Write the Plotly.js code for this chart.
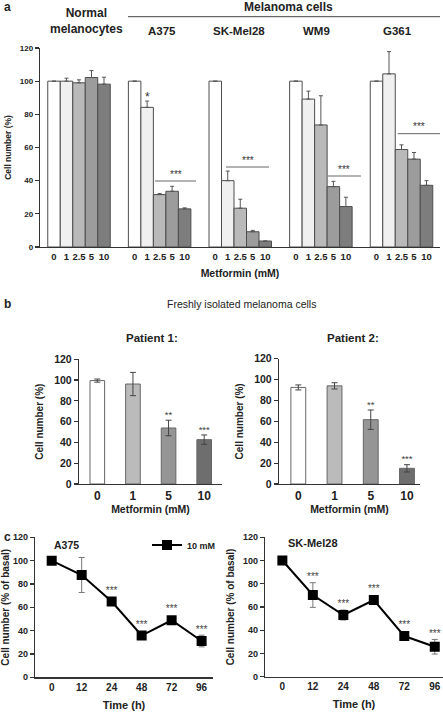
<!DOCTYPE html>
<html><head><meta charset="utf-8">
<script src="https://cdn.plot.ly/plotly-3.0.1.min.js"></script>
<style>html,body{margin:0;padding:0;background:#fff;overflow:hidden}</style>
</head><body><div id="chart" style="width:443px;height:712px"></div>
<script>
// ---------- Panel a: cell lines x metformin dose ----------
const groupsA = ["Normal melanocytes", "A375", "SK-Mel28", "WM9", "G361"];
const dosesA = ["0", "1", "2.5", "5", "10"];
const a_dose0   = [100, 100, 100, 100, 100];
const a_dose1   = [100, 84.2, 40, 89.2, 104.4];
const a_dose2_5 = [99, 31.6, 23.4, 73.6, 58.8];
const a_dose5   = [102.2, 33.6, 9.2, 36.4, 53];
const a_dose10  = [98.2, 23, 3.6, 24.4, 37.2];
const a_err0    = [0, 0, 0, 0, 0];
const a_err1    = [1.8, 3.8, 5.8, 4.8, 13.4];
const a_err2_5  = [1.8, 0.6, 5.4, 17.6, 2.8];
const a_err5    = [4.2, 3, 0.8, 3.2, 4];
const a_err10   = [4.2, 0.6, 0, 5.6, 2.8];

// ---------- Panel b: freshly isolated melanoma cells ----------
const dosesB = ["0", "1", "5", "10"];
const p1_vals = [99.5, 96.2, 53.9, 42.7];
const p1_err  = [1.5, 11.2, 7.5, 4.5];
const p1_sig  = ["", "", "**", "***"];
const p2_vals = [92.5, 94, 61.6, 15];
const p2_err  = [2.4, 3, 9.3, 3.5];
const p2_sig  = ["", "", "**", "***"];

// ---------- Panel c: time course, 10 mM ----------
const timesC = ["0", "12", "24", "48", "72", "96"];
const a375_vals = [100, 87.7, 65, 35.8, 48.9, 31.1];
const a375_err  = [0, 15, 1.5, 1.5, 3, 5];
const a375_sig  = ["", "", "***", "***", "***", "***"];
const sk_vals = [100, 70.3, 53.1, 66, 35, 25.8];
const sk_err  = [0, 10.6, 4.3, 3.6, 2, 6.3];
const sk_sig  = ["", "***", "***", "***", "***", "***"];

// ---------- layout helpers ----------
const W = 443, H = 712;
const px = x => x / W, py = y => 1 - y / H;
const FONT = "Liberation Sans, Arial, Helvetica, sans-serif";
const AX = "#333";
const STEP = 6.45;
const xA = (gi, di) => gi * STEP + di;

const doseColorsA = ["#ffffff", "#f0f0f0", "#b9b9b9", "#9c9c9c", "#7d7d7d"];
const valsA = [a_dose0, a_dose1, a_dose2_5, a_dose5, a_dose10];
const errsA = [a_err0, a_err1, a_err2_5, a_err5, a_err10];

const traces = [];
dosesA.forEach((d, di) => {
  traces.push({
    type: "bar", xaxis: "x", yaxis: "y", showlegend: false,
    name: d + " mM",
    x: groupsA.map((g, gi) => xA(gi, di)),
    y: valsA[di], width: 1,
    marker: {color: doseColorsA[di], line: {color: "#4d4d4d", width: 1}},
    error_y: {type: "data", symmetric: false, array: errsA[di],
              arrayminus: errsA[di].map(() => 0), color: "#555", thickness: 1, width: 2},
    hoverinfo: "y"
  });
});

const colorsB = ["#ffffff", "#bbbbbb", "#959595", "#6e6e6e"];
traces.push({
  type: "bar", xaxis: "x2", yaxis: "y2", showlegend: false, name: "Patient 1",
  x: dosesB, y: p1_vals, width: 0.41,
  marker: {color: colorsB, line: {color: "#666", width: 1}},
  error_y: {type: "data", array: p1_err, color: "#444", thickness: 1, width: 3}
});
traces.push({
  type: "bar", xaxis: "x3", yaxis: "y3", showlegend: false, name: "Patient 2",
  x: dosesB, y: p2_vals, width: 0.41,
  marker: {color: colorsB, line: {color: "#666", width: 1}},
  error_y: {type: "data", array: p2_err, color: "#444", thickness: 1, width: 3}
});

traces.push({
  type: "scatter", mode: "lines+markers", xaxis: "x4", yaxis: "y4",
  name: "10 mM", showlegend: true,
  x: timesC, y: a375_vals,
  line: {color: "#000", width: 2},
  marker: {symbol: "square", size: 10, color: "#000"},
  error_y: {type: "data", array: a375_err, color: "#777", thickness: 1, width: 3}
});
traces.push({
  type: "scatter", mode: "lines+markers", xaxis: "x5", yaxis: "y5",
  name: "10 mM", showlegend: false,
  x: timesC, y: sk_vals,
  line: {color: "#000", width: 2},
  marker: {symbol: "square", size: 10, color: "#000"},
  error_y: {type: "data", array: sk_err, color: "#777", thickness: 1, width: 3}
});

// significance stars as text traces anchored to the data
function sigTrace(xr, yr, xs, vals, errs, sig, size, minOff) {
  traces.push({
    type: "scatter", mode: "text", xaxis: xr, yaxis: yr, showlegend: false, hoverinfo: "skip",
    x: xs, y: vals.map((v, i) => v + Math.max(errs[i], minOff)),
    text: sig, textposition: "top center", cliponaxis: false,
    textfont: {family: FONT, size: size, color: "#444"}
  });
}
sigTrace("x2", "y2", dosesB, p1_vals, p1_err, p1_sig, 9.5, 0);
sigTrace("x3", "y3", dosesB, p2_vals, p2_err, p2_sig, 9.5, 0);
sigTrace("x4", "y4", timesC, a375_vals, a375_err, a375_sig, 10, 4.5);
sigTrace("x5", "y5", timesC, sk_vals, sk_err, sk_sig, 10, 4.5);

// ---------- axes ----------
const bold = (size, color) => ({family: FONT, size: size, color: color || "#222", weight: "bold"});
function yax(domain, tsize, title, tfsize, standoff, anchor) {
  return {
    domain: domain, range: [0, 120], dtick: 20, tick0: 0, anchor: anchor,
    showline: true, linecolor: AX, linewidth: 1.2, ticks: "outside", ticklen: 4,
    tickcolor: AX, tickwidth: 1.2, showgrid: false, zeroline: false,
    tickfont: bold(tsize), fixedrange: true,
    title: {text: title, font: bold(tfsize), standoff: standoff}
  };
}
function xcat(domain, range, tsize, title, tfsize, standoff, anchor) {
  return {
    domain: domain, range: range, type: "category", anchor: anchor,
    showline: true, linecolor: AX, linewidth: 1.2, ticks: "",
    showgrid: false, zeroline: false, tickfont: bold(tsize), fixedrange: true,
    title: {text: title, font: bold(tfsize), standoff: standoff}
  };
}

const tickvalsA = [], ticktextA = [];
groupsA.forEach((g, gi) => dosesA.forEach((d, di) => { tickvalsA.push(xA(gi, di)); ticktextA.push(d); }));

const layout = {
  width: W, height: H, autosize: false,
  margin: {l: 0, r: 0, t: 0, b: 0},
  paper_bgcolor: "#fff", plot_bgcolor: "rgba(0,0,0,0)",
  font: {family: FONT, color: "#222"},
  barmode: "overlay",
  showlegend: true,
  legend: {x: px(147), y: py(545), xanchor: "left", yanchor: "middle",
           bgcolor: "rgba(0,0,0,0)", font: bold(9), itemwidth: 30},
  xaxis: {
    domain: [px(40), px(440)], range: [-1.12, 30.88], anchor: "y",
    tickvals: tickvalsA, ticktext: ticktextA, tickangle: 0,
    showline: true, linecolor: AX, linewidth: 1.2, ticks: "",
    showgrid: false, zeroline: false, tickfont: bold(9.5), fixedrange: true,
    title: {text: "Metformin (mM)", font: bold(10.5), standoff: 9}
  },
  yaxis: yax([py(247), py(48)], 8, "Cell number (%)", 8.5, 6, "x"),
  xaxis2: xcat([px(79), px(222)], [-0.514, 3.5], 12, "Metformin (mM)", 10.5, 4, "y2"),
  yaxis2: yax([py(484), py(359.3)], 10.5, "Cell number (%)", 10, 8, "x2"),
  xaxis3: xcat([px(279), px(420)], [-0.533, 3.36], 12, "Metformin (mM)", 10.5, 4, "y3"),
  yaxis3: yax([py(484), py(358.7)], 10.5, "Cell number (%)", 10, 8, "x3"),
  xaxis4: xcat([px(35), px(213)], [-0.557, 5.38], 10, "Time (h)", 11, 9, "y4"),
  yaxis4: yax([py(677.3), py(537.3)], 9, "Cell number (% of basal)", 10, 6, "x4"),
  xaxis5: xcat([px(265), px(443)], [-0.57, 5.27], 10, "Time (h)", 11, 9, "y5"),
  yaxis5: yax([py(676.7), py(537.3)], 9, "Cell number (% of basal)", 10, 6, "x5"),
  annotations: [],
  shapes: []
};

const ann = layout.annotations, shp = layout.shapes;
function txt(text, x, y, size, opts) {
  ann.push(Object.assign({text: text, x: px(x), y: py(y), xref: "paper", yref: "paper",
    showarrow: false, xanchor: "center", yanchor: "middle", font: bold(size)}, opts || {}));
}
function hline(x0, x1, y, color) {
  shp.push({type: "line", xref: "paper", yref: "paper", x0: px(x0), x1: px(x1), y0: py(y), y1: py(y),
            line: {color: color || "#555", width: 1}});
}

// panel a headings
txt("a", 2, 7, 12, {xanchor: "left"});
txt("Normal<br>melanocytes", 86, 21, 12);
txt("Melanoma cells", 288, 7.5, 12);
hline(128, 440, 16.7, "#444");
const headX = [null, 161.7, 239.3, 316.7, 397.7];
groupsA.forEach((g, gi) => { if (gi > 0) txt(g, headX[gi], 30.7, 11.5); });
// significance in a
txt("*", 147.3, 97, 12, {font: {family: FONT, size: 12, color: "#333"}});
const sigA = [[155, 196, 181], [226, 269, 167], [327.7, 361, 176], [397.7, 440, 133.7]];
sigA.forEach(s => {
  hline(s[0], s[1], s[2], "#666");
  txt("***", (s[0] + s[1]) / 2, s[2] - 7, 10, {font: {family: FONT, size: 10, color: "#333"}});
});

// panel b headings
txt("b", 2, 304, 12, {xanchor: "left"});
txt("Freshly isolated melanoma cells", 241.7, 304, 10.5,
    {font: {family: FONT, size: 10.5, color: "#222"}});
txt("Patient 1:", 151.7, 338.3, 11.5);
txt("Patient 2:", 352.7, 338.3, 11.5);

// panel c headings
txt("c", 2, 537, 12, {xanchor: "left"});
txt("A375", 51.7, 545, 10.5, {xanchor: "left"});
txt("SK-Mel28", 286, 543.3, 11, {xanchor: "left"});

Plotly.newPlot("chart", traces, layout, {staticPlot: true, displayModeBar: false});
</script>
</body></html>
